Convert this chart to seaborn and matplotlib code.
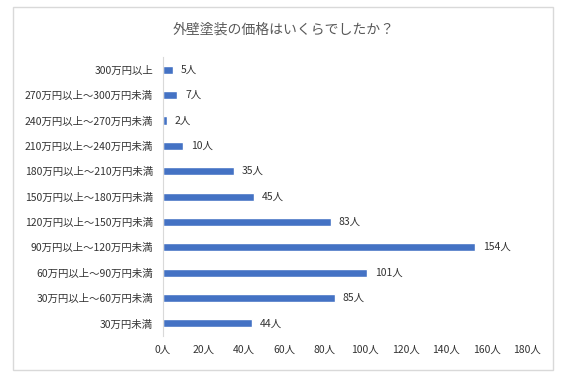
import matplotlib
matplotlib.use("Agg")
import matplotlib.pyplot as plt
import seaborn as sns
import pandas as pd
from matplotlib.patches import Rectangle

# data (top to bottom)
categories = ["300万円以上", "270万円以上～300万円未満", "240万円以上～270万円未満",
              "210万円以上～240万円未満", "180万円以上～210万円未満", "150万円以上～180万円未満",
              "120万円以上～150万円未満", "90万円以上～120万円未満", "60万円以上～90万円未満",
              "30万円以上～60万円未満", "30万円未満"]
counts = [5, 7, 2, 10, 35, 45, 83, 154, 101, 85, 44]
xticks = [0, 20, 40, 60, 80, 100, 120, 140, 160, 180]
title = "外壁塗装の価格はいくらでしたか？"

df = pd.DataFrame({"category": categories, "count": counts})

sns.set_style("white")
plt.rcParams["font.family"] = ["Noto Sans CJK JP", "DejaVu Sans"]

fig = plt.figure(figsize=(5.67, 3.78), dpi=100)
fig.patches.append(Rectangle((13 / 567, 1 - 370 / 378), 540 / 567, 363 / 378,
                             transform=fig.transFigure, fill=False,
                             edgecolor="#d9d9d9", linewidth=1.0))
ax = fig.add_axes([0.287, 0.111, 0.643, 0.738])

sns.barplot(data=df, x="count", y="category", orient="h", color="#4472c4",
            width=0.32, saturation=1, ax=ax)

ax.set_xlim(0, 180)
ax.set_xticks(xticks)
ax.set_xticklabels([f"{t}人" for t in xticks], fontsize=7.5, color="#333333")
ax.tick_params(axis="x", length=0, pad=6)
ax.tick_params(axis="y", length=4, color="#d9d9d9", labelsize=7.5, labelcolor="#333333", pad=3)
ax.set_xlabel("")
ax.set_ylabel("")
for s in ["top", "right", "bottom"]:
    ax.spines[s].set_visible(False)
ax.spines["left"].set_color("#d9d9d9")

# value labels
for i, v in enumerate(counts):
    ax.text(v + 4, i, f"{v}人", va="center", ha="left", fontsize=7.5, color="#333333")

fig.text(0.5, 1 - 30 / 378, title, ha="center", va="center", fontsize=10, color="#595959")

fig.savefig("out.png", dpi=100)
